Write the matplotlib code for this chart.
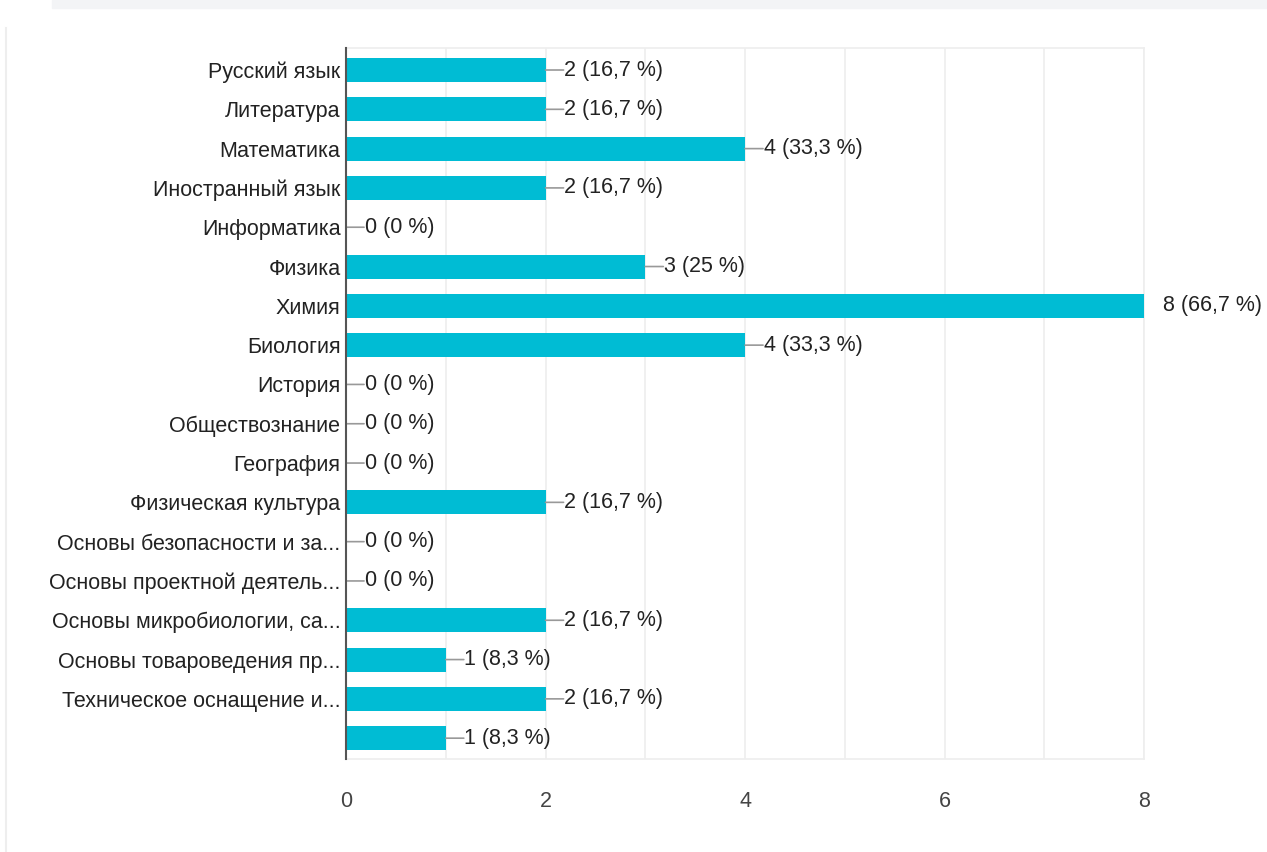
import numpy as np
import matplotlib.pyplot as plt
from matplotlib.patches import Rectangle

# subjects (last one has no visible label)
subjects = ['Русский язык', 'Литература', 'Математика', 'Иностранный язык',
            'Информатика', 'Физика', 'Химия', 'Биология', 'История',
            'Обществознание', 'География', 'Физическая культура',
            'Основы безопасности и за...', 'Основы проектной деятель...',
            'Основы микробиологии, са...', 'Основы товароведения пр...',
            'Техническое оснащение и...', '']
counts = [2, 2, 4, 2, 0, 3, 8, 4, 0, 0, 0, 2, 0, 0, 2, 1, 2, 1]
percents = ['16,7', '16,7', '33,3', '16,7', '0', '25', '66,7', '33,3', '0',
            '0', '0', '16,7', '0', '0', '16,7', '8,3', '16,7', '8,3']

plt.rcParams['font.family'] = ['Liberation Sans', 'DejaVu Sans']
fs = 15.5

fig = plt.figure(figsize=(12.67, 8.52), dpi=100)
fig.patches.append(Rectangle((52/1267, 1-8/852), 1, 8/852, transform=fig.transFigure,
                             color='#f3f4f6', zorder=0))
fig.add_artist(plt.Line2D([6/1267, 6/1267], [0, 1-28/852], color='#eeeeee', lw=1.5))

ax = fig.add_axes([346/1267, 1-759/852, 798/1267, 711/852])
y = np.arange(len(subjects))
ax.barh(y, counts, height=0.61, color='#00bcd4', zorder=3)

ax.set_xlim(0, 8)
ax.set_ylim(17.53, -0.56)
ax.set_yticks(y)
ax.set_yticklabels(subjects, fontsize=fs, color='#222222')
ax.set_xticks([0, 2, 4, 6, 8])
ax.set_xticklabels(['0', '2', '4', '6', '8'], fontsize=fs, color='#444444')
ax.set_xticks(np.arange(0, 9, 1), minor=True)
ax.tick_params(axis='both', length=0, which='both')
ax.tick_params(axis='y', pad=4)
ax.tick_params(axis='x', pad=23)
ax.grid(axis='x', which='both', color='#eeeeee', lw=1.2, zorder=0)

for s in ['top', 'bottom', 'right']:
    ax.spines[s].set_color('#eeeeee')
    ax.spines[s].set_linewidth(1.2)
ax.spines['left'].set_color('#555555')
ax.spines['left'].set_linewidth(1.5)
ax.spines['left'].set_zorder(4)

for yi, v, p in zip(y, counts, percents):
    if v < max(counts):
        ax.annotate('', xy=(v, yi), xytext=(13, 0), textcoords='offset points',
                    arrowprops=dict(arrowstyle='-', color='#999999', lw=1.2,
                                    shrinkA=0, shrinkB=0))
    ax.annotate(f'{v} ({p} %)', xy=(v, yi), xytext=(13.5, 0), textcoords='offset points',
                ha='left', va='center', fontsize=fs, color='#222222',
                annotation_clip=False)

fig.savefig('out.png', dpi=100)
